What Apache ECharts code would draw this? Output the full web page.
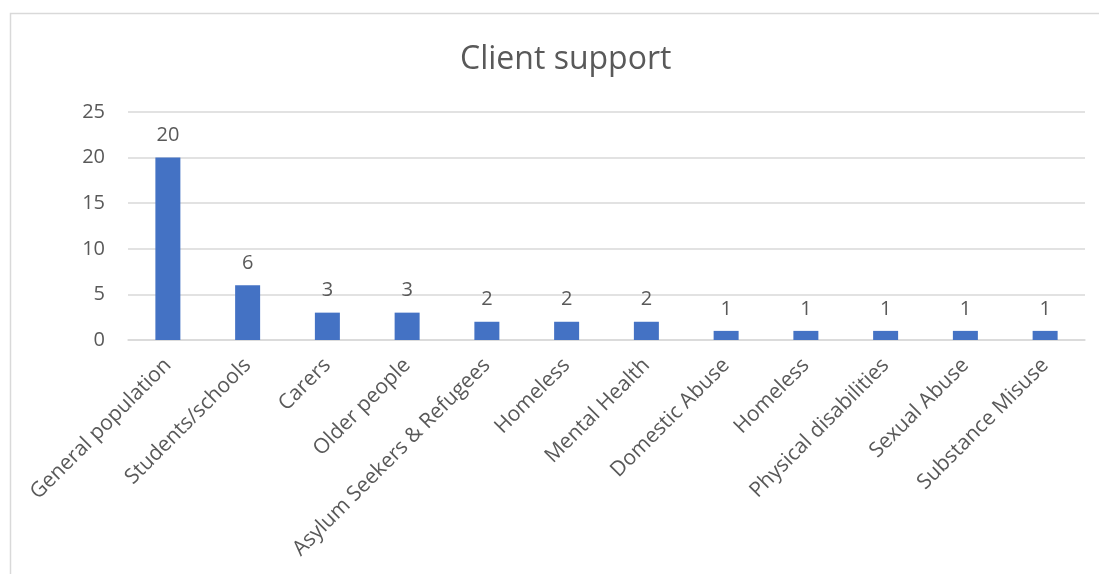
<!DOCTYPE html>
<html>
<head>
<meta charset="utf-8">
<style>
  html, body { margin: 0; padding: 0; background: #ffffff; }
  #chart { width: 1099px; height: 574px; }
</style>
<script src="https://cdn.jsdelivr.net/npm/echarts@6/dist/echarts.min.js"></script>
</head>
<body>
<div id="chart"></div>
<script>
// Client groups supported and the number of services for each
const categories = [
  'General population', 'Students/schools', 'Carers', 'Older people',
  'Asylum Seekers & Refugees', 'Homeless', 'Mental Health', 'Domestic Abuse',
  'Homeless', 'Physical disabilities', 'Sexual Abuse', 'Substance Misuse'
];
const clientCounts = [20, 6, 3, 3, 2, 2, 2, 1, 1, 1, 1, 1];
const yTicks = [0, 5, 10, 15, 20, 25];

const textColor = '#595959';
const fontFamily = '"Open Sans", "Noto Sans", sans-serif';

const chart = echarts.init(document.getElementById('chart'), null, { renderer: 'canvas' });

chart.setOption({
  backgroundColor: '#ffffff',
  animation: false,
  title: {
    text: 'Client support',
    left: 455,
    top: 39,
    textStyle: { color: textColor, fontFamily: fontFamily, fontSize: 32, fontWeight: 'normal' }
  },
  graphic: [{
    type: 'rect',
    shape: { x: 10.5, y: 13.5, width: 1200, height: 1000 },
    style: { fill: 'none', stroke: '#d9d9d9', lineWidth: 1.5 },
    silent: true
  }],
  grid: { left: 128, right: 14, top: 112, bottom: 234, containLabel: false },
  xAxis: {
    type: 'category',
    data: categories,
    axisLine: { show: true, lineStyle: { color: '#d9d9d9', width: 1.5 } },
    axisTick: { show: false },
    axisLabel: {
      interval: 0,
      rotate: 45,
      margin: 22,
      color: textColor,
      fontFamily: fontFamily,
      fontSize: 21
    }
  },
  yAxis: {
    type: 'value',
    min: yTicks[0],
    max: yTicks[yTicks.length - 1],
    interval: yTicks[1] - yTicks[0],
    axisLine: { show: false },
    axisTick: { show: false },
    splitLine: { lineStyle: { color: '#d9d9d9', width: 1.5 } },
    axisLabel: {
      margin: 23,
      color: textColor,
      fontFamily: fontFamily,
      fontSize: 20
    }
  },
  series: [{
    type: 'bar',
    data: clientCounts,
    barWidth: 25,
    itemStyle: { color: '#4472c4' },
    label: {
      show: true,
      position: 'top',
      distance: 12,
      color: textColor,
      fontFamily: fontFamily,
      fontSize: 20
    }
  }]
});
</script>
</body>
</html>
